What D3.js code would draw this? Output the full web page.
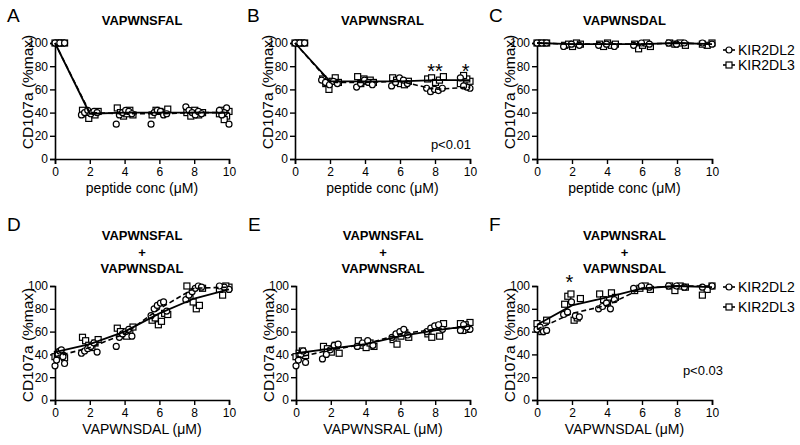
<!DOCTYPE html>
<html><head><meta charset="utf-8">
<script src="https://cdn.jsdelivr.net/npm/d3@7"></script>
<style>body{margin:0;background:#fff}svg{display:block}text{font-family:"Liberation Sans",Arial,sans-serif;fill:#000}</style>
</head><body>
<svg id="c" width="800" height="445"></svg>
<script>
const doses = [0, 2, 4, 6, 8, 10];
const xTicks = [0, 2, 4, 6, 8, 10];
const yTicks = [0, 20, 40, 60, 80, 100];
const seriesNames = ["KIR2DL2", "KIR2DL3"];

// Panel A
const A_KIR2DL2 = [[100,100,100],[38,40,42,39,41,40],[30,38,40,42,41,39],[30,40,42,41,38,39],[45,42,40,38,41,39],[30,44,40,38,42]];
const A_KIR2DL2_mean = [100,40,39,39,40,40];
const A_KIR2DL3 = [[100,100,100,100],[42,39,35,40,38,41],[44,40,37,39,42,38],[38,42,41,40,43],[40,37,42,38,40],[41,37,34,42,39]];
const A_KIR2DL3_mean = [100,39,40,40,40,40];
// Panel B
const B_KIR2DL2 = [[100,100,100],[68,66,64,67,65],[62,65,68,66,64],[63,66,70,68,65],[61,58,60,59,61],[61,62,63,70]];
const B_KIR2DL2_mean = [100,66,66,67,60,62];
const B_KIR2DL3 = [[100,100,100,100],[69,65,60,67,70,66],[71,65,69,67,68,66],[70,68,65,64,67],[69,70,66,68,71],[67,69,72,65]];
const B_KIR2DL3_mean = [100,67,67,67,68,68];
// Panel C
const C_KIR2DL2 = [[100,100,100],[97,99,98],[98,99,97],[98,100,99],[100,99,100],[99,100]];
const C_KIR2DL2_mean = [100,99,99,99,100,99];
const C_KIR2DL3 = [[100,100,100],[98,99,97,100,99],[99,97,100,98,99],[99,95,98,100,97],[100,99,100,98],[100,98,99]];
const C_KIR2DL3_mean = [100,99,99,99,100,99];
// Panel D
const D_KIR2DL2 = [[30,35,40,43,44,38,32],[41,43,45,47,50,42],[47,55,58,60,62,56],[74,80,83,85,86,78],[88,92,95,98,100,99],[97,99,100]];
const D_KIR2DL2_mean = [38,46,58,80,98,99];
const D_KIR2DL3 = [[38,40,42,39,37],[55,52,48,46,50,53],[63,60,57,56,61,64],[70,72,66,69,76,75],[100,89,86,80,83,98],[99,100,92,97]];
const D_KIR2DL3_mean = [42,49,60,76,89,97];
// Panel E
const E_KIR2DL2 = [[30,35,40,43,33],[36,40,44,48,49],[47,50,52,48],[55,58,60,62,57],[60,63,65,66,62],[62,64,66,61]];
const E_KIR2DL2_mean = [37,44,49,58,62,64];
const E_KIR2DL3 = [[38,41,43,39],[47,45,42,48,41],[52,48,46,50,47],[53,49,56,59,55],[58,55,64,56,67],[68,62,66,61,67]];
const E_KIR2DL3_mean = [41,45,49,56,61,65];
// Panel F
const F_KIR2DL2 = [[62,64,60,61],[75,77,86,74,73],[80,82,85,80,88],[98,100,99],[100,100,99],[100,99]];
const F_KIR2DL2_mean = [62,76,83,98,100,100];
const F_KIR2DL3 = [[67,60,70],[84,91,93,70,72,89],[93,88,85,94,90],[96,98,100,97],[100,96,100,99],[100,97,92]];
const F_KIR2DL3_mean = [66,83,90,98,100,99];

const panels = [
  {letter:"A", title:["VAPWNSFAL"], xlabel:"peptide conc (\u03bcM)", l2:A_KIR2DL2, l2m:A_KIR2DL2_mean, l3:A_KIR2DL3, l3m:A_KIR2DL3_mean, x0:55, x1:229, yt:43, yb:159},
  {letter:"B", title:["VAPWNSRAL"], xlabel:"peptide conc (\u03bcM)", l2:B_KIR2DL2, l2m:B_KIR2DL2_mean, l3:B_KIR2DL3, l3m:B_KIR2DL3_mean, x0:295, x1:470, yt:43, yb:159,
    stars:[{x:8, t:"**"},{x:9.75, t:"*"}], p:"p<0.01"},
  {letter:"C", title:["VAPWNSDAL"], xlabel:"peptide conc (\u03bcM)", l2:C_KIR2DL2, l2m:C_KIR2DL2_mean, l3:C_KIR2DL3, l3m:C_KIR2DL3_mean, x0:537, x1:712, yt:43, yb:159, legend:[50,65]},
  {letter:"D", title:["VAPWNSFAL","+","VAPWNSDAL"], xlabel:"VAPWNSDAL (\u03bcM)", l2:D_KIR2DL2, l2m:D_KIR2DL2_mean, l3:D_KIR2DL3, l3m:D_KIR2DL3_mean, x0:55, x1:229, yt:286, yb:400},
  {letter:"E", title:["VAPWNSFAL","+","VAPWNSRAL"], xlabel:"VAPWNSRAL (\u03bcM)", l2:E_KIR2DL2, l2m:E_KIR2DL2_mean, l3:E_KIR2DL3, l3m:E_KIR2DL3_mean, x0:296, x1:470, yt:286, yb:400},
  {letter:"F", title:["VAPWNSRAL","+","VAPWNSDAL"], xlabel:"VAPWNSDAL (\u03bcM)", l2:F_KIR2DL2, l2m:F_KIR2DL2_mean, l3:F_KIR2DL3, l3m:F_KIR2DL3_mean, x0:537, x1:712, yt:286, yb:400,
    stars:[{x:1.85, t:"*"}], p:"p<0.03", legend:[287,307]}
];

const svg = d3.select("#c");

function offsets(dose, n, shift) {
  return d3.range(n).map(i => {
    const t = n > 1 ? i / (n - 1) : 0.5;
    if (dose === 0) return t * 0.55;
    if (dose === 10) return -t * 0.55;
    return (t - 0.5) * 0.9 + shift;
  });
}

function drawSquare(g, cx, cy) {
  g.append("rect").attr("x", cx - 3).attr("y", cy - 3).attr("width", 6).attr("height", 6)
    .attr("fill", "#fff").attr("stroke", "#000").attr("stroke-width", 1.2);
}
function drawCircle(g, cx, cy) {
  g.append("circle").attr("cx", cx).attr("cy", cy).attr("r", 3)
    .attr("fill", "#fff").attr("stroke", "#000").attr("stroke-width", 1.2);
}

panels.forEach(p => {
  const g = svg.append("g");
  const x = d3.scaleLinear().domain([0, 10]).range([p.x0, p.x1]);
  const y = d3.scaleLinear().domain([0, 100]).range([p.yb, p.yt]);
  const top = p.yt < 100;

  // axes
  const xa = g.append("g").attr("transform", `translate(0,${p.yb})`)
    .call(d3.axisBottom(x).tickValues(xTicks).tickSize(5).tickPadding(3));
  const ya = g.append("g").attr("transform", `translate(${p.x0},0)`)
    .call(d3.axisLeft(y).tickValues(yTicks).tickSize(5).tickPadding(2));
  [xa, ya].forEach(a => {
    a.select(".domain").attr("stroke", "#000").attr("stroke-width", 1.6);
    a.selectAll(".tick line").attr("stroke", "#000").attr("stroke-width", 1.4);
    a.selectAll(".tick text").style("font-size", "12px").style("font-family", '"Liberation Sans",Arial,sans-serif').attr("fill", "#000");
  });

  // labels
  g.append("text").attr("x", (p.x0 + p.x1) / 2).attr("y", p.yb + 34).attr("text-anchor", "middle")
    .style("font-size", "14px").text(p.xlabel);
  const ylc = top ? 92 : 345;
  g.append("text").attr("transform", `translate(${p.x0 - 22},${ylc}) rotate(-90)`).attr("text-anchor", "middle")
    .style("font-size", "15.5px").text("CD107a (%max)");

  // title
  const tb = top ? 25 : 240;
  p.title.forEach((t, i) => {
    g.append("text").attr("x", (p.x0 + p.x1) / 2).attr("y", tb + i * 16.5).attr("text-anchor", "middle")
      .style("font-size", "13px").style("font-weight", "bold").text(t);
  });
  // letter
  g.append("text").attr("x", p.x0 - 48).attr("y", top ? 22 : 231).style("font-size", "19px").text(p.letter);

  // points
  doses.forEach((d, di) => {
    const v3 = p.l3[di], o3 = offsets(d, v3.length, 0.03);
    v3.forEach((v, i) => drawSquare(g, x(d + o3[i]), y(v)));
    const v2 = p.l2[di], o2 = offsets(d, v2.length, -0.03);
    v2.forEach((v, i) => drawCircle(g, x(d + o2[i]), y(v)));
  });

  // mean lines
  const line = d3.line().x((v, i) => x(doses[i])).y(v => y(v));
  g.append("path").attr("d", line(p.l3m)).attr("fill", "none").attr("stroke", "#000").attr("stroke-width", 1.8);
  g.append("path").attr("d", line(p.l2m)).attr("fill", "none").attr("stroke", "#000").attr("stroke-width", 1.6)
    .attr("stroke-dasharray", "5,3");

  if (p.stars) p.stars.forEach(s => {
    g.append("text").attr("x", x(s.x)).attr("y", top ? 78 : 289).attr("text-anchor", "middle")
      .style("font-size", "20px").text(s.t);
  });
  if (p.p) {
    if (top) g.append("text").attr("x", p.x1 + 1).attr("y", 149).attr("text-anchor", "end").style("font-size", "13px").text(p.p);
    else g.append("text").attr("x", p.x1 + 11).attr("y", 375).attr("text-anchor", "end").style("font-size", "13px").text(p.p);
  }
  if (p.legend) {
    seriesNames.forEach((n, i) => {
      const ly = p.legend[i];
      g.append("line").attr("x1", 723).attr("x2", 735).attr("y1", ly).attr("y2", ly).attr("stroke", "#000").attr("stroke-width", 1.6);
      if (i === 0) drawCircle(g, 729, ly); else drawSquare(g, 729, ly);
      g.append("text").attr("x", 738).attr("y", ly).attr("dy", "0.36em").style("font-size", "14px").text(n);
    });
  }
});
</script>
</body></html>
